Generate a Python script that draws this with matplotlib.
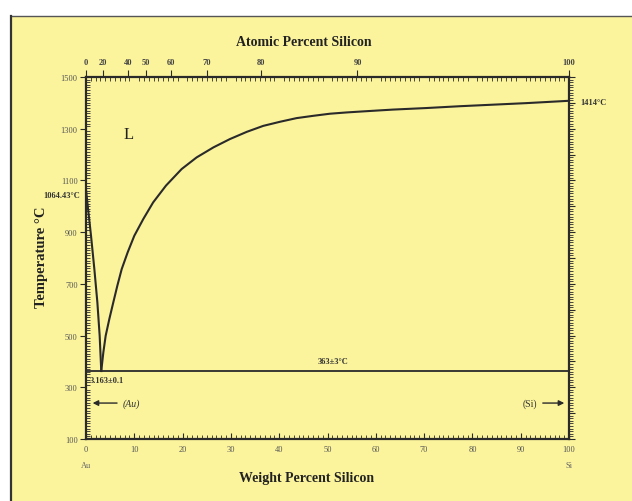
import numpy as np
import matplotlib
matplotlib.use("Agg")
import matplotlib.pyplot as plt
from matplotlib.patches import Rectangle
from matplotlib.ticker import MultipleLocator, FixedLocator

# ---- data ----
au_liq_wt = [0.0, 0.28, 1.04, 1.73, 2.35, 2.83, 3.16]
au_liq_T = [1064.43, 1015, 886, 757, 629, 499, 363]

si_liq_wt = [3.16, 3.59, 4.07, 4.83, 5.66, 6.49, 7.39, 8.63, 10.0, 11.87, 13.9, 16.56,
             19.8, 22.9, 26.4, 29.8, 33.3, 36.7, 40.2, 43.6, 47.1, 50.5, 54.0, 57.4,
             60.9, 63.6, 70.5, 77.4, 84.3, 91.2, 100.0]
si_liq_T = [363, 435, 499, 564, 629, 693, 757, 822, 886, 951, 1015, 1080,
            1144, 1189, 1228, 1260, 1288, 1311, 1327, 1341, 1350, 1358, 1363, 1367,
            1371, 1374, 1380, 1387, 1393, 1399, 1408]

eutectic_T = 363
eutectic_wt = [0, 100]

wt_ticks = [0, 10, 20, 30, 40, 50, 60, 70, 80, 90, 100]
at_ticks = [0, 20, 40, 50, 60, 70, 80, 90, 100]
T_ticks = [100, 300, 500, 700, 900, 1100, 1300, 1500]

M_SI = 28.086
M_AU = 196.967

YELLOW = "#FBF49C"
INK = "#2a2a2a"
SERIF = ["Liberation Serif", "DejaVu Serif"]


def wt2at(w):
    w = np.asarray(w, dtype=float)
    a = w / M_SI
    b = (100 - w) / M_AU
    with np.errstate(divide="ignore", invalid="ignore"):
        r = 100 * a / (a + b)
    return r


def at2wt(x):
    x = np.asarray(x, dtype=float)
    a = x * M_SI
    b = (100 - x) * M_AU
    with np.errstate(divide="ignore", invalid="ignore"):
        r = 100 * a / (a + b)
    return r


fig = plt.figure(figsize=(6.32, 5.02), dpi=100)
fig.patch.set_facecolor("white")
# scanned page background
bg = Rectangle((12 / 632, 0), 1 - 12 / 632, 1 - 17 / 502,
               transform=fig.transFigure, facecolor=YELLOW,
               edgecolor="none", zorder=-10)
fig.patches.append(bg)
fig.lines.append(plt.Line2D([12 / 632, 1], [1 - 17 / 502, 1 - 17 / 502],
                            transform=fig.transFigure, color="#555555", lw=1.0, zorder=-5))
fig.lines.append(plt.Line2D([11 / 632, 11 / 632], [0, 1 - 17 / 502],
                            transform=fig.transFigure, color="#333333", lw=1.6, zorder=-5))

ax = fig.add_axes([86 / 632, 62 / 502, 483 / 632, 362 / 502])
ax.patch.set_alpha(0)
ax.set_xlim(0, 100)
ax.set_ylim(100, 1500)

ax.plot(au_liq_wt, au_liq_T, color=INK, lw=1.5, solid_joinstyle="round")
ax.plot(si_liq_wt, si_liq_T, color=INK, lw=1.5, solid_joinstyle="round")
ax.plot(eutectic_wt, [eutectic_T, eutectic_T], color=INK, lw=1.3)

for s in ax.spines.values():
    s.set_color(INK)
    s.set_linewidth(1.6)

# bottom axis (weight percent)
ax.xaxis.set_major_locator(FixedLocator(wt_ticks))
ax.xaxis.set_minor_locator(MultipleLocator(1))
ax.tick_params(axis="x", which="major", direction="in", length=4, width=0.8,
               bottom=True, top=False, labelsize=6, labelcolor="#555555",
               color=INK, pad=4)
ax.tick_params(axis="x", which="minor", direction="in", length=3, width=0.6,
               bottom=True, top=True, color=INK)
for lbl in ax.get_xticklabels():
    lbl.set_family(SERIF)

# left axis (temperature)
ax.yaxis.set_major_locator(FixedLocator(T_ticks))
ax.yaxis.set_minor_locator(MultipleLocator(10))
ax.tick_params(axis="y", which="major", direction="out", length=4, width=0.8,
               left=True, right=False, labelsize=6, labelcolor="#555555",
               color=INK, pad=2)
ax.tick_params(axis="y", which="minor", direction="in", length=3, width=0.6,
               left=True, right=False, color=INK)
for lbl in ax.get_yticklabels():
    lbl.set_family(SERIF)

# right axis ticks outward
secy = ax.secondary_yaxis("right", functions=(lambda y: y, lambda y: y))
secy.yaxis.set_major_locator(MultipleLocator(100))
secy.yaxis.set_minor_locator(MultipleLocator(10))
secy.tick_params(which="major", direction="out", length=4, width=0.8,
                 labelright=False, color=INK)
secy.tick_params(which="minor", direction="out", length=3, width=0.6, color=INK)
secy.spines["right"].set_visible(False)

# top axis (atomic percent)
secx = ax.secondary_xaxis("top", functions=(wt2at, at2wt))
secx.xaxis.set_major_locator(FixedLocator(at_ticks))
secx.xaxis.set_minor_locator(FixedLocator([]))
secx.tick_params(which="major", direction="out", length=5, width=0.8,
                 labelsize=6, labelcolor="#444444", color=INK, pad=3)
secx.spines["top"].set_visible(False)
for lbl in secx.get_xticklabels():
    lbl.set_family(SERIF)
    lbl.set_fontweight("bold")

# axis titles
fig.text(304 / 632, 1 - 42 / 502, "Atomic Percent Silicon", ha="center", va="center",
         family=SERIF, fontweight="bold", fontsize=10, color="#222222")
fig.text(307 / 632, 1 - 479 / 502, "Weight Percent Silicon", ha="center", va="center",
         family=SERIF, fontweight="bold", fontsize=10, color="#222222")
fig.text(42 / 632, 1 - 257 / 502, "Temperature °C", ha="center", va="center",
         rotation=90, family=SERIF, fontweight="bold", fontsize=10.5, color="#222222")

bx = ax.get_xaxis_transform()
ax.text(0, -0.072, "Au", transform=bx, ha="center", va="center", fontsize=6,
        family=SERIF, color="#666666", clip_on=False)
ax.text(100, -0.072, "Si", transform=bx, ha="center", va="center", fontsize=6,
        family=SERIF, color="#666666", clip_on=False)

# annotations
ax.text(8.9, 1279, "L", ha="center", va="center", fontsize=12, family=SERIF, color="#222222")
ax.text(-1.2, 1043, "1064.43°C", ha="right", va="center", fontsize=6, family=SERIF,
        fontweight="bold", color="#333333", clip_on=False)
ax.text(102.3, 1403, "1414°C", ha="left", va="center", fontsize=6, family=SERIF,
        fontweight="bold", color="#333333", clip_on=False)
ax.text(51.1, 402, "363±3°C", ha="center", va="center", fontsize=6, family=SERIF,
        fontweight="bold", color="#333333")
ax.text(0.8, 328, "3.163±0.1", ha="left", va="center", fontsize=6, family=SERIF,
        fontweight="bold", color="#333333")

ax.annotate("", xy=(0.8, 239), xytext=(7.0, 239),
            arrowprops=dict(arrowstyle="-|>", color=INK, lw=1.0, mutation_scale=8))
ax.text(7.5, 239, "(Au)", ha="left", va="center", fontsize=7, family=SERIF,
        style="italic", color="#333333")
ax.annotate("", xy=(99.6, 239), xytext=(94.0, 239),
            arrowprops=dict(arrowstyle="-|>", color=INK, lw=1.0, mutation_scale=8))
ax.text(93.4, 239, "(Si)", ha="right", va="center", fontsize=7, family=SERIF,
        color="#333333")

fig.savefig("out.png", dpi=100, facecolor=fig.get_facecolor())
